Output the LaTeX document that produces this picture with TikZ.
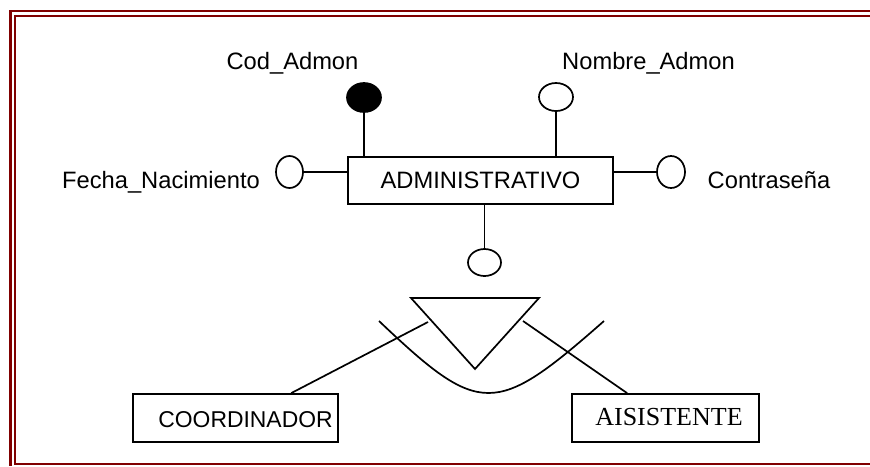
\documentclass[tikz,border=0pt]{standalone}
\usepackage{fontspec}
\setmainfont{Liberation Sans}
\newfontfamily\serifface{Liberation Serif}
\usetikzlibrary{shapes.geometric}
\definecolor{framered}{RGB}{128,0,0}
\begin{document}
\begin{tikzpicture}[x=1pt,y=-1pt,
  lw/.style={line width=1.7pt},
  entity/.style={draw,lw,rectangle,inner sep=0pt},
  attrv/.style={draw,lw,ellipse,inner sep=0pt,minimum width=34pt,minimum height=28pt},
  attrh/.style={draw,lw,ellipse,inner sep=0pt,minimum width=28pt,minimum height=32pt},
  lbl/.style={inner sep=0pt,anchor=base,font=\fontsize{23.7pt}{28pt}\selectfont},
  slbl/.style={inner sep=0pt,anchor=base,font=\serifface\fontsize{26pt}{30pt}\selectfont},
  frameline/.style={draw=framered}]
\useasboundingbox (0,0) rectangle (870,466);
% frame (cropped at right and bottom)
\draw[frameline,line width=2.5pt] (870,11) -- (10.5,11) -- (10.5,466);
\draw[frameline,line width=2pt] (870,15.5) -- (14.5,15.5) -- (14.5,464) -- (870,464);
% entity
\node[entity,minimum width=265pt,minimum height=47pt,font=\fontsize{23.7pt}{28pt}\selectfont] (adm) at (480.5,180.5) {ADMINISTRATIVO};
% attributes
\node[attrv,fill=black,minimum height=29pt] (cod) at (364,97.5) {};
\node[attrv] (nom) at (556,97) {};
\node[attrh,minimum width=27pt] (fecha) at (289.5,172) {};
\node[attrh] (contra) at (671,172) {};
\node[attrv,minimum width=33pt,minimum height=27pt] (sub) at (484.5,262.5) {};
% labels
\node[lbl] (codl) at (292.5,69) {Cod\_Admon};
\node[lbl] (noml) at (648.5,69) {Nombre\_Admon};
\node[lbl] (fechal) at (161,188) {Fecha\_Nacimiento};
\node[lbl] (contral) at (769,188) {Contraseña};
% connectors
\draw[lw] (cod) -- (cod |- adm.north);
\draw[lw] (nom) -- (nom |- adm.north);
\draw[lw] (fecha) -- (fecha -| adm.west);
\draw[lw] (contra) -- (contra -| adm.east);
\draw[lw] (adm.south -| sub) -- (sub);
% subtype boxes
\node[entity,minimum width=205pt,minimum height=48pt] (coord) at (235.5,418) {};
\node[lbl,font=\fontsize{22.9pt}{28pt}\selectfont] (coordl) at (245.5,427) {COORDINADOR};
\node[entity,minimum width=187pt,minimum height=48pt] (aisi) at (665.5,418) {};
\node[slbl] (aisil) at (669,425) {AISISTENTE};
% triangle
\coordinate (tl) at (411,298);
\coordinate (tr) at (539,298);
\coordinate (tb) at (475,369);
\draw[lw,line join=miter] (tl) -- (tr) -- (tb) -- cycle;
% arc
\coordinate (ca) at (379,321);
\coordinate (cb) at (604,321);
\draw[lw] (ca) .. controls (480,417) and (495,417) .. (cb);
% lines to subtypes
\coordinate (la) at (428,322);
\coordinate (ra) at (523,321);
\draw[lw] (la) -- ([xshift=159pt]coord.north west);
\draw[lw] (ra) -- ([xshift=56pt]aisi.north west);
\end{tikzpicture}
\end{document}
